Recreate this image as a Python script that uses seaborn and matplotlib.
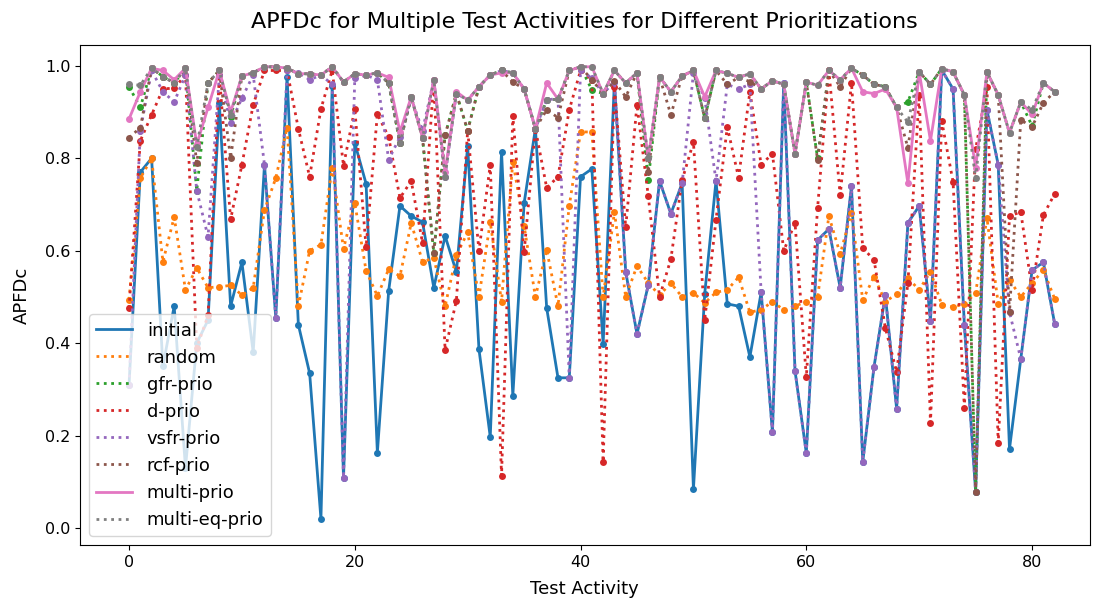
import matplotlib
matplotlib.use("Agg")
import matplotlib.pyplot as plt
from matplotlib.lines import Line2D
import seaborn as sns
import pandas as pd
import numpy as np

activities = list(range(83))

initial = [0.31, 0.77, 0.80, 0.35, 0.48, 0.13, 0.40, 0.45, 0.92, 0.48,
           0.575, 0.38, 0.786, 0.455, 0.977, 0.44, 0.335, 0.02, 0.957, 0.108,
           0.833, 0.745, 0.163, 0.513, 0.697, 0.675, 0.662, 0.52, 0.632, 0.554,
           0.826, 0.387, 0.197, 0.814, 0.286, 0.703, 0.864, 0.476, 0.325, 0.325,
           0.76, 0.777, 0.398, 0.966, 0.554, 0.42, 0.526, 0.751, 0.68, 0.746,
           0.084, 0.507, 0.751, 0.485, 0.48, 0.37, 0.51, 0.207, 0.963, 0.34,
           0.162, 0.623, 0.647, 0.52, 0.74, 0.143, 0.349, 0.504, 0.258, 0.66,
           0.697, 0.448, 0.991, 0.95, 0.44, 0.078, 0.905, 0.786, 0.171, 0.366,
           0.558, 0.575, 0.442]

random_prio = [0.494, 0.757, 0.80, 0.576, 0.673, 0.515, 0.563, 0.52, 0.522, 0.525,
               0.504, 0.52, 0.688, 0.757, 0.866, 0.48, 0.60, 0.613, 0.78, 0.604,
               0.703, 0.557, 0.502, 0.56, 0.545, 0.66, 0.576, 0.584, 0.48, 0.59,
               0.64, 0.50, 0.662, 0.49, 0.793, 0.654, 0.50, 0.602, 0.48, 0.697,
               0.857, 0.857, 0.50, 0.684, 0.50, 0.567, 0.53, 0.504, 0.53, 0.50,
               0.509, 0.487, 0.51, 0.515, 0.543, 0.467, 0.472, 0.49, 0.472, 0.48,
               0.49, 0.50, 0.675, 0.593, 0.682, 0.493, 0.544, 0.49, 0.506, 0.541,
               0.515, 0.555, 0.483, 0.478, 0.485, 0.508, 0.671, 0.485, 0.537, 0.50,
               0.53, 0.558, 0.496]

gfr_prio = [0.955, 0.91, 0.995, 0.977, 0.963, 0.995, 0.73, 0.963, 0.99, 0.89,
            0.978, 0.985, 0.998, 0.998, 0.995, 0.983, 0.983, 0.98, 0.998, 0.965,
            0.983, 0.98, 0.985, 0.963, 0.833, 0.933, 0.844, 0.595, 0.85, 0.94,
            0.86, 0.955, 0.98, 0.99, 0.985, 0.95, 0.864, 0.926, 0.928, 0.99,
            0.998, 0.948, 0.94, 0.99, 0.963, 0.985, 0.753, 0.976, 0.944, 0.978,
            0.99, 0.887, 0.99, 0.984, 0.975, 0.983, 0.95, 0.968, 0.96, 0.81,
            0.965, 0.80, 0.99, 0.97, 0.995, 0.98, 0.96, 0.955, 0.91, 0.922,
            0.987, 0.96, 0.994, 0.987, 0.937, 0.078, 0.987, 0.937, 0.855, 0.922,
            0.87, 0.963, 0.944]

d_prio = [0.476, 0.838, 0.894, 0.95, 0.952, 0.98, 0.39, 0.46, 0.98, 0.668,
          0.786, 0.916, 0.99, 0.99, 0.99, 0.864, 0.76, 0.907, 0.99, 0.784,
          0.907, 0.608, 0.896, 0.846, 0.714, 0.751, 0.617, 0.97, 0.385, 0.492,
          0.86, 0.60, 0.786, 0.113, 0.892, 0.597, 0.864, 0.736, 0.76, 0.905,
          0.99, 0.97, 0.143, 0.955, 0.651, 0.916, 0.718, 0.50, 0.582, 0.753,
          0.835, 0.45, 0.667, 0.868, 0.758, 0.944, 0.786, 0.81, 0.60, 0.66,
          0.327, 0.693, 0.99, 0.72, 0.963, 0.606, 0.58, 0.433, 0.338, 0.53,
          0.937, 0.227, 0.88, 0.749, 0.26, 0.82, 0.954, 0.184, 0.675, 0.684,
          0.515, 0.677, 0.723]

vsfr_prio = [0.31, 0.86, 0.99, 0.944, 0.922, 0.98, 0.73, 0.63, 0.98, 0.876,
             0.93, 0.98, 0.786, 0.455, 0.99, 0.985, 0.97, 0.98, 0.96, 0.108,
             0.974, 0.98, 0.97, 0.797, 0.846, 0.93, 0.86, 0.97, 0.76, 0.94,
             0.926, 0.955, 0.98, 0.99, 0.985, 0.95, 0.864, 0.926, 0.93, 0.325,
             0.99, 0.974, 0.94, 0.966, 0.554, 0.42, 0.526, 0.751, 0.68, 0.746,
             0.985, 0.93, 0.751, 0.96, 0.95, 0.96, 0.51, 0.207, 0.963, 0.34,
             0.162, 0.623, 0.647, 0.52, 0.74, 0.143, 0.349, 0.504, 0.258, 0.66,
             0.697, 0.448, 0.991, 0.95, 0.44, 0.078, 0.905, 0.786, 0.467, 0.366,
             0.558, 0.575, 0.442]

rcf_prio = [0.845, 0.866, 0.995, 0.977, 0.963, 0.995, 0.79, 0.963, 0.99, 0.80,
            0.978, 0.985, 0.998, 0.998, 0.995, 0.983, 0.983, 0.98, 0.998, 0.965,
            0.983, 0.98, 0.985, 0.963, 0.833, 0.933, 0.844, 0.595, 0.85, 0.94,
            0.86, 0.955, 0.98, 0.99, 0.965, 0.95, 0.864, 0.905, 0.888, 0.99,
            0.998, 0.97, 0.94, 0.967, 0.933, 0.985, 0.77, 0.976, 0.894, 0.978,
            0.99, 0.887, 0.99, 0.96, 0.975, 0.966, 0.95, 0.968, 0.96, 0.81,
            0.965, 0.797, 0.99, 0.955, 0.995, 0.98, 0.96, 0.955, 0.91, 0.823,
            0.987, 0.96, 0.994, 0.987, 0.937, 0.078, 0.987, 0.937, 0.467, 0.883,
            0.868, 0.92, 0.944]

multi_prio = [0.885, 0.944, 0.995, 0.99, 0.97, 0.995, 0.83, 0.91, 0.99, 0.90,
              0.978, 0.985, 0.998, 0.998, 0.995, 0.983, 0.983, 0.98, 0.998, 0.965,
              0.983, 0.98, 0.985, 0.975, 0.857, 0.933, 0.844, 0.97, 0.77, 0.944,
              0.926, 0.955, 0.98, 0.985, 0.985, 0.95, 0.864, 0.963, 0.928, 0.99,
              0.998, 0.998, 0.94, 0.99, 0.963, 0.985, 0.80, 0.976, 0.944, 0.978,
              0.99, 0.933, 0.99, 0.984, 0.975, 0.983, 0.95, 0.968, 0.96, 0.81,
              0.965, 0.958, 0.99, 0.97, 0.995, 0.944, 0.94, 0.95, 0.91, 0.746,
              0.987, 0.838, 0.994, 0.987, 0.937, 0.78, 0.987, 0.937, 0.855, 0.922,
              0.895, 0.963, 0.944]

multi_eq_prio = [0.96, 0.958, 0.995, 0.977, 0.963, 0.995, 0.825, 0.963, 0.99, 0.894,
                 0.978, 0.985, 0.998, 0.998, 0.995, 0.983, 0.983, 0.98, 0.998, 0.965,
                 0.983, 0.98, 0.985, 0.963, 0.833, 0.933, 0.844, 0.97, 0.76, 0.94,
                 0.926, 0.955, 0.98, 0.99, 0.985, 0.95, 0.864, 0.926, 0.928, 0.99,
                 0.998, 0.998, 0.94, 0.99, 0.963, 0.985, 0.80, 0.976, 0.944, 0.978,
                 0.99, 0.887, 0.99, 0.984, 0.975, 0.983, 0.95, 0.968, 0.96, 0.81,
                 0.965, 0.958, 0.99, 0.97, 0.995, 0.98, 0.96, 0.955, 0.91, 0.878,
                 0.987, 0.96, 0.994, 0.987, 0.937, 0.757, 0.987, 0.937, 0.855, 0.922,
                 0.905, 0.963, 0.944]

series_names = ["initial", "random", "gfr-prio", "d-prio", "vsfr-prio",
                "rcf-prio", "multi-prio", "multi-eq-prio"]
series_values = [initial, random_prio, gfr_prio, d_prio, vsfr_prio,
                 rcf_prio, multi_prio, multi_eq_prio]
series_styles = ["-", ":", ":", ":", ":", ":", "-", ":"]

plt.rcParams["font.family"] = ["DejaVu Sans"]
plt.rcParams["font.size"] = 11

fig, ax = plt.subplots(figsize=(11.04, 6.01), dpi=100)
fig.subplots_adjust(left=0.0725, right=0.987, top=0.925, bottom=0.093)

palette = sns.color_palette("tab10", 8)
handles = []
for name, vals, ls, col in zip(series_names, series_values, series_styles, palette):
    df = pd.DataFrame({"activity": activities, "apfdc": vals})
    sns.lineplot(data=df, x="activity", y="apfdc", ax=ax, color=col,
                 linestyle=ls, linewidth=2.0, marker="o", markersize=5,
                 markeredgewidth=0, legend=False)
    handles.append(Line2D([], [], color=col, linestyle=ls, linewidth=2.0, label=name))

ax.set_xlim(-4.34, 85.1)
ax.set_ylim(-0.037, 1.045)
ax.set_title("APFDc for Multiple Test Activities for Different Prioritizations",
             fontsize=16, pad=12)
ax.set_xlabel("Test Activity", fontsize=13, labelpad=7)
ax.set_ylabel("APFDc", fontsize=13, labelpad=10)
ax.set_yticks([0.0, 0.2, 0.4, 0.6, 0.8, 1.0])
ax.set_xticks([0, 20, 40, 60, 80])
ax.tick_params(labelsize=11.5)
ax.legend(handles=handles, loc="lower left", fontsize=13, handlelength=2.0)

fig.savefig("out.png", dpi=100)
